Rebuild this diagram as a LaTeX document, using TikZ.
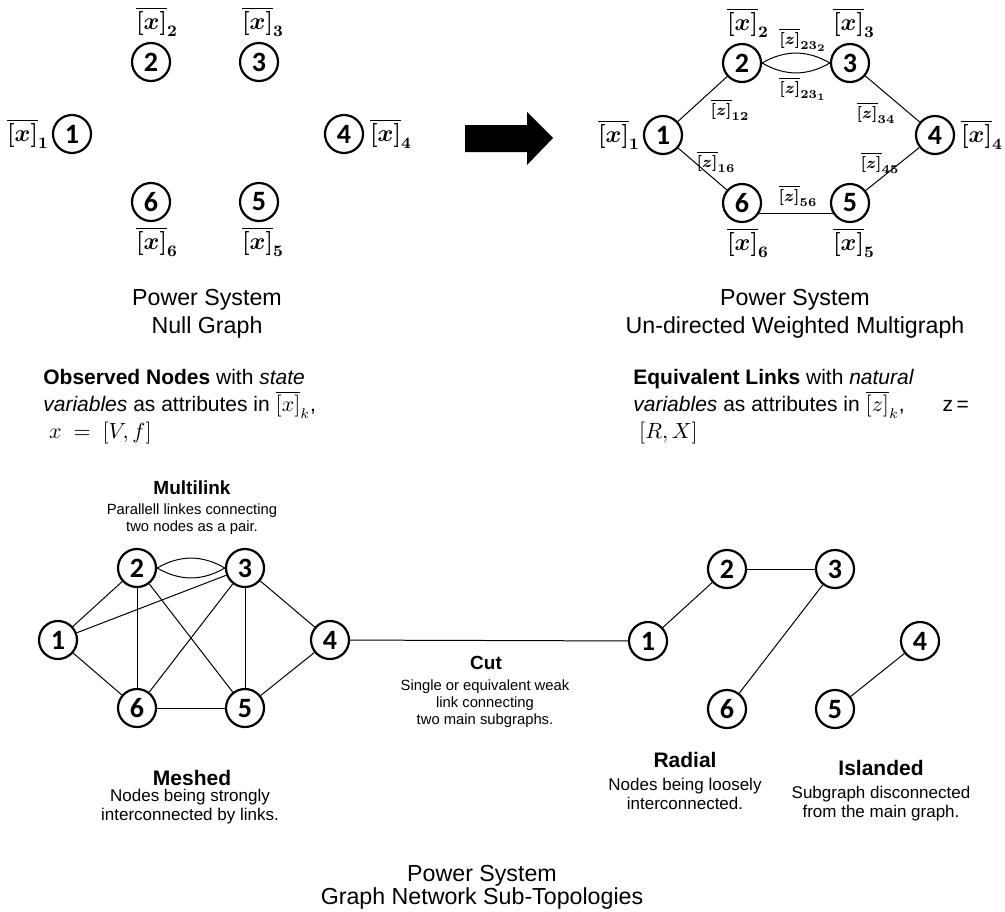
\documentclass[tikz,border=0pt]{standalone}
\usepackage[no-math]{fontspec}
\setmainfont{Liberation Sans}
\newfontfamily\busfont{Carlito}
\usetikzlibrary{calc}
\definecolor{ink}{HTML}{000000}

\tikzset{
  bus/.style={circle,draw=ink,line width=1.1pt,minimum size=19pt,inner sep=0pt,font=\busfont\bfseries\fontsize{14}{14}\selectfont},
  link/.style={draw=ink,line width=0.5pt},
  xlbl/.style={inner sep=0pt,font=\fontsize{11.8}{13}\selectfont\boldmath},
  zlbl/.style={inner sep=0pt,font=\fontsize{8}{9}\selectfont\boldmath},
  headtxt/.style={align=center,inner sep=0pt,font=\fontsize{11.6}{14.2}\selectfont},
  bodytxt/.style={align=left,anchor=north west,inner sep=0pt,font=\fontsize{10.5}{13.5}\selectfont},
  smalltitle/.style={inner sep=0pt,font=\bfseries\fontsize{9.5}{11}\selectfont},
  smalldesc/.style={align=center,anchor=north,inner sep=0pt,font=\fontsize{7.4}{8.5}\selectfont},
  bigtitle/.style={inner sep=0pt,font=\bfseries\fontsize{10.5}{12}\selectfont},
  bigdesc/.style={align=center,anchor=north,inner sep=0pt,font=\fontsize{8.5}{9.5}\selectfont},
}

\begin{document}
\begin{tikzpicture}[x=0.5pt,y=-0.5pt]

\useasboundingbox (0,0) rectangle (1005,911);

\begin{scope}
\foreach \k/\px/\py in {1/72/134,2/151/62,3/259/62,4/344/134,5/259/202,6/151/202}
  \node[bus] (n\k) at (\px,\py) {\k};
\foreach \k/\px/\py in {1/28/134,2/157/22,3/263/22,4/391/134,5/263/242,6/157/242}
  \node[xlbl] (nx\k) at (\px,\py) {$\overline{[x]}_{\k}$};
\end{scope}

\fill[ink] (465,125) -- (527,125) -- (527,112) -- (553,138) -- (527,165) -- (527,152) -- (465,152) -- cycle;

\begin{scope}[shift={(591,1)}]
\foreach \k/\px/\py in {1/72/134,2/151/62,3/259/62,4/344/134,5/259/202,6/151/202}
  \node[bus] (m\k) at (\px,\py) {\k};
\foreach \k/\px/\py in {1/28/134,2/157/22,3/263/22,4/391/134,5/263/242,6/157/242}
  \node[xlbl] (mx\k) at (\px,\py) {$\overline{[x]}_{\k}$};

\draw[link] (m1) -- (m2);
\draw[link] (m2.east) to[bend left=30] (m3.west);
\draw[link] (m2.east) to[bend right=30] (m3.west);
\draw[link] (m3) -- (m4);
\draw[link] (m1) -- (m6);
\draw[link] (m4) -- (m5);
\draw[link] (m6.-32) -- (m5.-148);

\node[zlbl] (z232) at (212,39) {$\overline{[z]}_{23_2}$};
\node[zlbl] (z231) at (212,88) {$\overline{[z]}_{23_1}$};
\node[zlbl] (z12) at (139,109) {$\overline{[z]}_{12}$};
\node[zlbl] (z34) at (285,112) {$\overline{[z]}_{34}$};
\node[zlbl] (z16) at (125,161) {$\overline{[z]}_{16}$};
\node[zlbl] (z45) at (289,162) {$\overline{[z]}_{45}$};
\node[zlbl] (z56) at (207,195) {$\overline{[z]}_{56}$};
\end{scope}

\node[headtxt] (nullhead) at (207,314) {Power System\\Null Graph};
\node[headtxt] (multihead) at (795,314) {Power System\\Un-directed Weighted Multigraph};

\node[bodytxt] (nodetxt) at (43,369) {\textbf{Observed Nodes} with \textit{state}\\
\textit{variables} as attributes in $\overline{[x]}_k$,\\
$~x~=~[V,f]$};
\node[bodytxt] (linktxt) at (633,369) {\textbf{Equivalent Links} with \textit{natural}\\
\textit{variables} as attributes in $\overline{[z]}_k$,\hspace{19pt}z\,=\\
$~[R,X]$};

\begin{scope}[shift={(-14,506)}]
\foreach \k/\px/\py in {1/72/134,2/151/62,3/259/62,4/344/134,5/259/202,6/151/202}
  \node[bus] (s\k) at (\px,\py) {\k};
\draw[link] (s1) -- (s2);
\draw[link] (s1) -- (s3);
\draw[link] (s1) -- (s6);
\draw[link] (s2.east) to[bend left=30] (s3.west);
\draw[link] (s2.east) to[bend right=30] (s3.west);
\draw[link] (s2) -- (s6);
\draw[link] (s2) -- (s5);
\draw[link] (s3) -- (s6);
\draw[link] (s3) -- (s5);
\draw[link] (s3) -- (s4);
\draw[link] (s4) -- (s5);
\draw[link] (s6) -- (s5);
\end{scope}

\begin{scope}[shift={(576,507)}]
\foreach \k/\px/\py in {1/72/134,2/151/62,3/259/62,4/344/134,5/259/202,6/151/202}
  \node[bus] (r\k) at (\px,\py) {\k};
\draw[link] (r1) -- (r2);
\draw[link] (r2) -- (r3);
\draw[link] (r3) -- (r6);
\draw[link] (r4) -- (r5);
\end{scope}

\draw[link] (s4) -- (r1);

\node[smalltitle] (multititle) at (192,488) {Multilink};
\node[smalldesc] (multidesc) at (192,503) {Parallell linkes connecting\\two nodes as a pair.};

\node[smalltitle] (cuttitle) at (486,663) {Cut};
\node[smalldesc] (cutdesc) at (485,679) {Single or equivalent weak\\link connecting\\two main subgraphs.};

\node[bigtitle] (meshtitle) at (192,778) {Meshed};
\node[bigdesc] (meshdesc) at (190,789) {Nodes being strongly\\interconnected by links.};

\node[bigtitle] (radtitle) at (685,760) {Radial};
\node[bigdesc] (raddesc) at (685,778) {Nodes being loosely\\interconnected.};

\node[bigtitle] (isltitle) at (881,768) {Islanded};
\node[bigdesc] (isldesc) at (881,786) {Subgraph disconnected\\from the main graph.};

\node[headtxt,font=\fontsize{11.6}{11.5}\selectfont] (subhead) at (482,887) {Power System\\Graph Network Sub-Topologies};

\end{tikzpicture}
\end{document}
